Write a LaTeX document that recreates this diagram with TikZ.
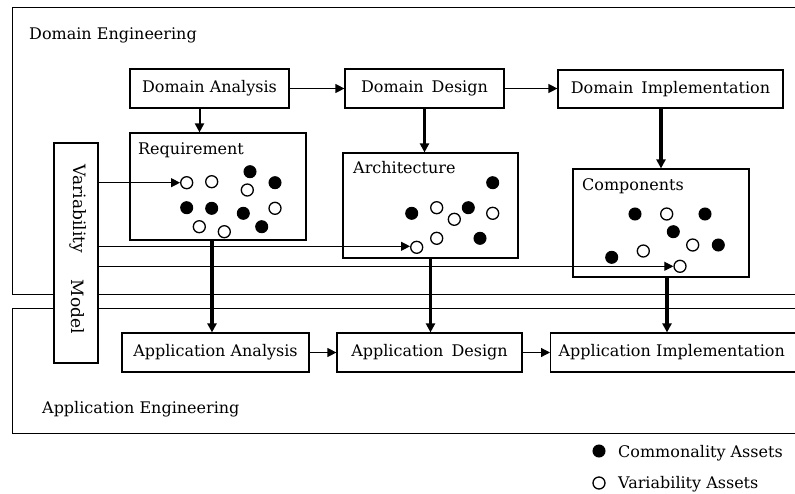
\documentclass[tikz,border=0pt]{standalone}
\usepackage{fontspec}
\setmainfont{DejaVu Serif}
\usetikzlibrary{arrows.meta,calc}
\begin{document}
\begin{tikzpicture}[x=1pt,y=-1pt,
  font=\fontsize{16}{19}\selectfont,
  box/.style={draw, line width=1.2pt, inner sep=0pt, fill=white},
  frame/.style={draw, line width=1.2pt, inner sep=0pt},
  tip/.style={-{Triangle[length=9pt,width=9pt]}},
  thinarrow/.style={tip, line width=1pt},
  medarrow/.style={tip, line width=2pt},
  thickarrow/.style={tip, line width=3.4pt},
  fdot/.style={circle, fill=black, draw=black, line width=1pt, minimum size=12pt, inner sep=0pt},
  odot/.style={circle, fill=white, draw=black, line width=1.3pt, minimum size=12pt, inner sep=0pt},
  lbl/.style={inner sep=0pt, anchor=base west},
]
\useasboundingbox (0,0) rectangle (795,493);
\clip (0,0) rectangle (795,493);

% frames
\node[frame, anchor=north west, minimum width=800pt, minimum height=287pt] (dom) at (12,7) {};
\node[frame, anchor=north west, minimum width=800pt, minimum height=125pt] (app) at (12,308) {};
\node[lbl] (domlab) at (29,39) {Domain Engineering};
\node[lbl] (applab) at (42,413) {Application Engineering};

% domain boxes
\node[box, minimum width=159pt, minimum height=39pt] (da) at (209.5,88.5) {Domain Analysis};
\node[box, minimum width=159pt, minimum height=39pt] (dd) at (424.5,88.5) {Domain\enspace Design};
\node[box, minimum width=225pt, minimum height=38pt] (di) at (670.5,89) {Domain\enspace Implementation};

\node[box, minimum width=176pt, minimum height=107pt] (req) at (218,186.5) {};
\node[box, minimum width=175pt, minimum height=105pt] (arch) at (430.5,205.5) {};
\node[box, minimum width=176pt, minimum height=108pt] (comp) at (661,223) {};
\node[lbl] (reqlab) at (138,154) {Requirement};
\node[lbl] (archlab) at (353,173) {Architecture};
\node[lbl] (complab) at (582,190) {Components};

% application boxes
\node[box, minimum width=187pt, minimum height=39pt] (aa) at (215.5,352.5) {Application Analysis};
\node[box, minimum width=185pt, minimum height=39pt] (ad) at (429.5,352.5) {Application\enspace Design};
\node[box, minimum height=39pt, text width=250pt, inner xsep=8pt, align=left, anchor=west] (ai) at (550,352.5) {Application Implementation};

% variability model
\node[box, minimum width=44pt, minimum height=220pt] (vm) at (76,253) {};
\node[rotate=-90, inner sep=0pt, font=\fontsize{17}{19}\selectfont] (vmt1) at (78,209) {Variability};
\node[rotate=-90, inner sep=0pt, font=\fontsize{17}{19}\selectfont] (vmt2) at (78,307) {Model};

% requirement dots
\node[odot] (r1) at (186.7,182.7) {};
\node[odot] (r2) at (211.7,181.7) {};
\node[fdot] (r3) at (250,171.7) {};
\node[odot] (r4) at (247.3,190) {};
\node[fdot] (r5) at (275,182.7) {};
\node[fdot] (r6) at (186.7,207.7) {};
\node[fdot] (r7) at (211.7,208.3) {};
\node[fdot] (r8) at (243.3,213.3) {};
\node[odot] (r9) at (275,208.3) {};
\node[odot] (r10) at (199.3,226.7) {};
\node[odot] (r11) at (224.3,231.7) {};
\node[fdot] (r12) at (261.7,226.7) {};

% architecture dots
\node[fdot] (a1) at (492.7,182.7) {};
\node[fdot] (a2) at (411.7,213.3) {};
\node[odot] (a3) at (436.7,207.7) {};
\node[odot] (a4) at (454.3,219.3) {};
\node[fdot] (a5) at (468.3,207.7) {};
\node[odot] (a6) at (492.7,213.3) {};
\node[odot] (a7) at (416.7,247.3) {};
\node[odot] (a8) at (436.7,238.3) {};
\node[fdot] (a9) at (480,238.3) {};

% component dots
\node[fdot] (c1) at (635,214) {};
\node[odot] (c2) at (666.7,214) {};
\node[fdot] (c3) at (705,214) {};
\node[fdot] (c4) at (673.3,231.7) {};
\node[odot] (c5) at (692.7,245) {};
\node[fdot] (c6) at (718.3,245) {};
\node[fdot] (c7) at (611.7,257.3) {};
\node[odot] (c8) at (643.3,251) {};
\node[odot] (c9) at (680,266.3) {};

% domain flow
\draw[thinarrow, line width=1.2pt] (da) -- (dd);
\draw[thinarrow, line width=1.2pt] (dd) -- (dd -| di.west);
\draw[medarrow] ([xshift=-10pt]da.south) -- ([xshift=-10pt]da.south |- req.north);
\draw[thickarrow] (dd.south) -- (dd.south |- arch.north);
\draw[thickarrow] (di.south -| comp.north) -- (comp.north);

% to application
\draw[thickarrow] ([xshift=-6pt]req.south) -- ([xshift=-6pt]req.south |- aa.north);
\draw[medarrow, line width=2.6pt] (arch.south) -- (arch.south |- ad.north);
\draw[thickarrow] ([xshift=6pt]comp.south) -- ([xshift=6pt]comp.south |- ai.north);

% application flow
\draw[thinarrow, line width=1.2pt] (aa) -- (ad);
\draw[thinarrow, line width=1.2pt] (ad) -- (ad -| ai.west);

% variability links
\draw[thinarrow] (r1 -| vm.east) -- (r1);
\draw[thinarrow] ([yshift=1pt]a7.west -| vm.east) -- ([yshift=1pt]a7.west);
\draw[thinarrow] (c9 -| vm.east) -- (c9);

% legend
\node[fdot] (lc) at (599,451) {};
\node[odot] (lv) at (599,483) {};
\node[lbl] (lct) at (618,457) {Commonality Assets};
\node[lbl] (lvt) at (618,488) {Variability Assets};
\end{tikzpicture}
\end{document}
